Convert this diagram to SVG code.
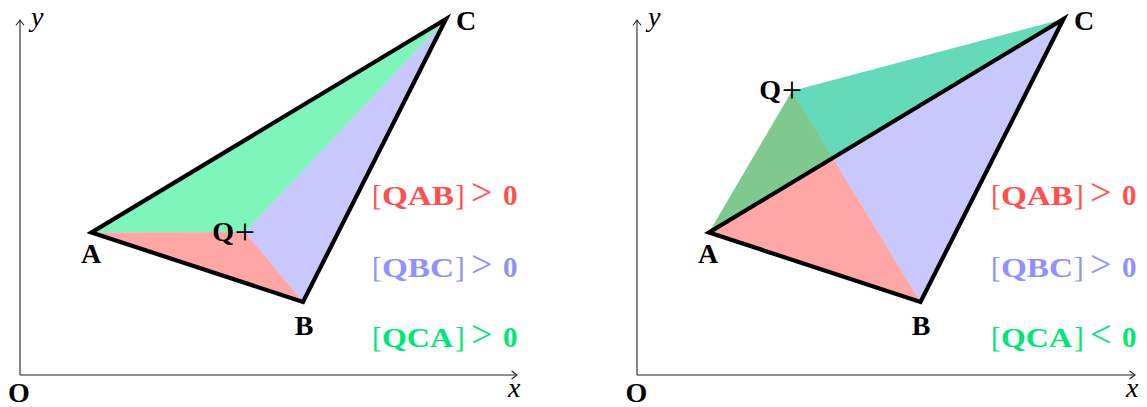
<svg xmlns="http://www.w3.org/2000/svg" width="1147" height="407" viewBox="0 0 1147 407">
  <defs>
    <marker id="arr" markerUnits="userSpaceOnUse" markerWidth="12" markerHeight="12" viewBox="-7 -6 9 12" refX="0" refY="0" orient="auto">
      <path d="M-5,-3.8 Q-1.5,-1 0,0 Q-1.5,1 -5,3.8" fill="none" stroke="#222" stroke-width="1.1" stroke-linecap="round"/>
    </marker>
  </defs>
  <style>
    .axis { stroke: #222; stroke-width: 1.1; fill: none; marker-end: url(#arr); }
    .tri { stroke: #000; stroke-width: 4.2; fill: none; stroke-linejoin: miter; stroke-miterlimit: 10; }
    .qab { fill: rgb(255,80,80); fill-opacity: 0.5; }
    .qbc { fill: rgb(145,145,249); fill-opacity: 0.5; }
    .qca { fill: rgb(0,235,119); fill-opacity: 0.5; }
    .lbl { font-family: "Liberation Serif", "DejaVu Serif", serif; font-weight: bold; font-size: 28px; fill: #000; }
    .ax { font-family: "Liberation Serif", "DejaVu Serif", serif; font-style: italic; font-size: 28px; fill: #000; }
    .plus { font-family: "Liberation Serif", "DejaVu Serif", serif; font-size: 36px; fill: #000; }
    .br { font-family: "Liberation Serif", "DejaVu Serif", serif; font-size: 29px; }
    .bd { font-family: "Liberation Serif", "DejaVu Serif", serif; font-size: 28px; font-weight: bold; }
    .zero { font-family: "Liberation Serif", "DejaVu Serif", serif; font-size: 29px; font-weight: bold; }
    .op { font-family: "Liberation Serif", "DejaVu Serif", serif; font-size: 38px; }
    .red { fill: #ff5050; }
    .blue { fill: #9191f9; }
    .green { fill: #00e676; }
  </style>

  <!-- Left panel -->
  <g id="left-panel">
    <g id="left-regions">
      <polygon class="qab" points="245,232 91.5,232.5 303,302"/>
      <polygon class="qbc" points="245,232 303,302 446,19"/>
      <polygon class="qca" points="245,232 446,19 91.5,232.5"/>
    </g>
    <g id="left-axes">
      <path class="axis" d="M20,375 V20"/>
      <path class="axis" d="M20,375 H517"/>
      <text class="ax" x="31" y="26">y</text>
      <text class="ax" x="508" y="397">x</text>
      <text class="lbl" x="8" y="402">O</text>
    </g>
    <g id="left-triangle">
      <polygon class="tri" points="91.5,232.5 303,302 446,19"/>
    </g>
    <g id="left-A"><text class="lbl" x="91" y="263" text-anchor="middle">A</text></g>
    <g id="left-B"><text class="lbl" x="304" y="335" text-anchor="middle">B</text></g>
    <g id="left-C"><text class="lbl" x="456" y="30">C</text></g>
    <g id="left-Q">
      <text class="lbl" x="234" y="241" text-anchor="end">Q</text>
      <text class="plus" x="245" y="244" text-anchor="middle">+</text>
    </g>
    <g id="left-conditions">
      <g class="red">
        <text class="br" x="372" y="205">[</text>
        <text class="bd" x="382" y="205" textLength="72" lengthAdjust="spacingAndGlyphs">QAB</text>
        <text class="br" x="455" y="205">]</text>
        <text class="op" x="471" y="205">&gt;</text>
        <text class="zero" x="503" y="205">0</text>
      </g>
      <g class="blue">
        <text class="br" x="372" y="277">[</text>
        <text class="bd" x="382" y="277" textLength="72" lengthAdjust="spacingAndGlyphs">QBC</text>
        <text class="br" x="455" y="277">]</text>
        <text class="op" x="471" y="277">&gt;</text>
        <text class="zero" x="503" y="277">0</text>
      </g>
      <g class="green">
        <text class="br" x="372" y="347">[</text>
        <text class="bd" x="382" y="347" textLength="71" lengthAdjust="spacingAndGlyphs">QCA</text>
        <text class="br" x="455" y="347">]</text>
        <text class="op" x="471" y="347">&gt;</text>
        <text class="zero" x="503" y="347">0</text>
      </g>
    </g>
  </g>

  <!-- Right panel -->
  <g id="right-panel">
    <g id="right-regions">
      <polygon class="qab" points="792,91 709,232.5 920.5,302"/>
      <polygon class="qbc" points="792,91 920.5,302 1063.5,19"/>
      <polygon class="qca" points="792,91 1063.5,19 709,232.5"/>
    </g>
    <g id="right-axes">
      <path class="axis" d="M637,375 V20"/>
      <path class="axis" d="M637,375 H1135"/>
      <text class="ax" x="648" y="26">y</text>
      <text class="ax" x="1126" y="397">x</text>
      <text class="lbl" x="625.5" y="402">O</text>
    </g>
    <g id="right-triangle">
      <polygon class="tri" points="709,232.5 920.5,302 1063.5,19"/>
    </g>
    <g id="right-A"><text class="lbl" x="708" y="263" text-anchor="middle">A</text></g>
    <g id="right-B"><text class="lbl" x="921" y="335" text-anchor="middle">B</text></g>
    <g id="right-C"><text class="lbl" x="1074" y="30">C</text></g>
    <g id="right-Q">
      <text class="lbl" x="781" y="99" text-anchor="end">Q</text>
      <text class="plus" x="792" y="102" text-anchor="middle">+</text>
    </g>
    <g id="right-conditions">
      <g class="red">
        <text class="br" x="991" y="205">[</text>
        <text class="bd" x="1001" y="205" textLength="72" lengthAdjust="spacingAndGlyphs">QAB</text>
        <text class="br" x="1074" y="205">]</text>
        <text class="op" x="1090" y="205">&gt;</text>
        <text class="zero" x="1122" y="205">0</text>
      </g>
      <g class="blue">
        <text class="br" x="991" y="277">[</text>
        <text class="bd" x="1001" y="277" textLength="72" lengthAdjust="spacingAndGlyphs">QBC</text>
        <text class="br" x="1074" y="277">]</text>
        <text class="op" x="1090" y="277">&gt;</text>
        <text class="zero" x="1122" y="277">0</text>
      </g>
      <g class="green">
        <text class="br" x="991" y="347">[</text>
        <text class="bd" x="1001" y="347" textLength="71" lengthAdjust="spacingAndGlyphs">QCA</text>
        <text class="br" x="1074" y="347">]</text>
        <text class="op" x="1090" y="347">&lt;</text>
        <text class="zero" x="1122" y="347">0</text>
      </g>
    </g>
  </g>
</svg>
